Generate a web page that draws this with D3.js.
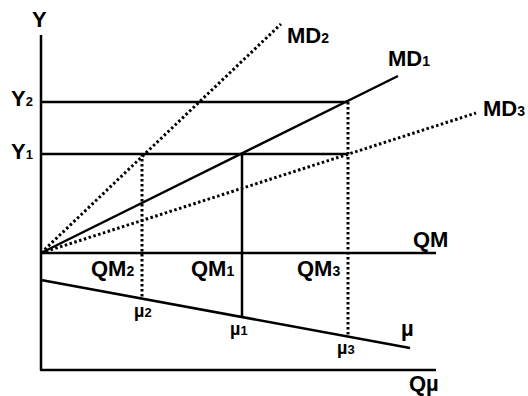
<!DOCTYPE html>
<html lang="en">
<head>
<meta charset="UTF-8">
<title>Money demand diagram</title>
<script src="https://d3js.org/d3.v7.min.js"></script>
<style>
  body { margin: 0; background: #fff; }
  text { font-family: "Liberation Sans", Arial, sans-serif; font-weight: bold; fill: #000; }
  .solid { stroke: #000; stroke-width: 2.5; fill: none; }
  .dotted { stroke: #000; stroke-width: 3; fill: none; stroke-dasharray: 2.5,2.5; }
</style>
</head>
<body>
<div class="chart"></div>
<script>
// quantities of money (QM2, QM1, QM3) and income levels (Y1, Y2)
var qmNames = ["2", "1", "3"];
var qmValues = [1.01, 2.01, 3.07];
var yNames = ["1", "2"];
var yValues = [0.99, 1.51];
// end points of money demand lines, all starting at origin
var mdNames = ["1", "2", "3"];
var mdEndX = [3.57, 2.40, 4.35];
var mdEndY = [1.77, 2.29, 1.40];
var mdDotted = [false, true, true];
// mu line and the mu value under each QM
var muStart = [0, -0.27];
var muEnd = [3.69, -0.95];
var muValues = [-0.45, -0.64, -0.82];
// axis extents
var axisTop = 2.18, axisRight = 3.95, axisBottom = -1.17;

var width = 528, height = 396;

var svg = d3.select(".chart").append("svg")
    .attr("width", width)
    .attr("height", height);

var x = d3.scaleLinear().domain([0, 4]).range([41, 441]);
var y = d3.scaleLinear().domain([0, 1]).range([253, 153]);

var line = d3.line().x(d => x(d[0])).y(d => y(d[1]));

// axes frame
svg.append("path")
    .attr("class", "solid")
    .attr("stroke-linejoin", "round")
    .attr("d", line([[0, axisTop], [0, axisBottom], [axisRight, axisBottom]]));

// QM line
svg.append("path")
    .attr("class", "solid")
    .attr("d", line([[0, 0], [axisRight, 0]]));

// Y levels
svg.selectAll(".ylev")
    .data(yValues)
  .enter().append("path")
    .attr("class", "solid ylev")
    .attr("d", d => line([[0, d], [qmValues[2], d]]));

// MD lines
svg.selectAll(".md")
    .data(mdNames)
  .enter().append("path")
    .attr("class", (d, i) => mdDotted[i] ? "dotted md" : "solid md")
    .attr("d", (d, i) => line([[0, 0], [mdEndX[i], mdEndY[i]]]));

// mu line
svg.append("path")
    .attr("class", "solid")
    .attr("d", line([muStart, muEnd]));

// verticals: QM2 dotted from Y1, QM1 solid from Y1, QM3 dotted from Y2
var vertTop = [yValues[0], yValues[0], yValues[1]];
svg.selectAll(".vert")
    .data(qmValues)
  .enter().append("path")
    .attr("class", (d, i) => i === 1 ? "solid vert" : "dotted vert")
    .attr("d", (d, i) => line([[d, vertTop[i]], [d, muValues[i]]]));

// label helper: main text + subscript
function label(px, py, main, sub, size, subSize) {
  var t = svg.append("text")
      .attr("x", px)
      .attr("y", py)
      .style("font-size", size + "px")
      .text(main);
  if (sub) {
    t.append("tspan")
        .style("font-size", subSize + "px")
        .text(sub);
  }
  return t;
}

label(x(0) - 9, 27, "Y", null, 22);
label(x(0) - 30, y(yValues[1]) + 4, "Y", yNames[1], 22, 13);
label(x(0) - 30, y(yValues[0]) + 5, "Y", yNames[0], 22, 13);

// MD labels
var mdLabelDx = [-10, 6, 7], mdLabelDy = [-10, 19, 3];
mdNames.forEach(function(n, i) {
  label(x(mdEndX[i]) + mdLabelDx[i], y(mdEndY[i]) + mdLabelDy[i], "MD", n, 22, 14);
});

// QM labels
qmNames.forEach(function(n, i) {
  label(x(qmValues[i]) - 51, y(0) + 23, "QM", n, 22, 14);
});
label(x(axisRight) - 23, y(0) - 6, "QM", null, 22);

// mu labels
var muDx = [-8, -12, -11], muDy = [19, 18, 19];
qmNames.forEach(function(n, i) {
  label(x(qmValues[i]) + muDx[i], y(muValues[i]) + muDy[i], "\u00b5", n, 18, 13);
});
label(x(muEnd[0]) - 9, y(muEnd[1]) - 12, "\u00b5", null, 22);
label(x(axisRight) - 27, y(axisBottom) + 21, "Q\u00b5", null, 22);
</script>
</body>
</html>
